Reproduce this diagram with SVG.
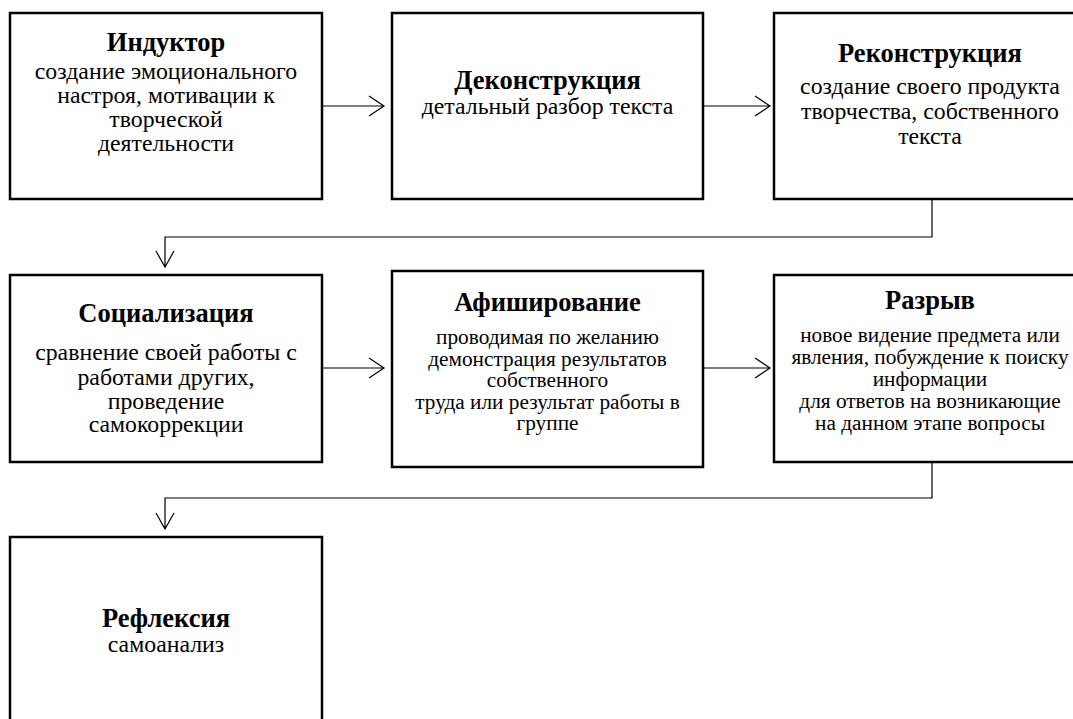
<svg xmlns="http://www.w3.org/2000/svg" width="1073" height="719" viewBox="0 0 1073 719">
<style>
.box{fill:#fff;stroke:#000;stroke-width:2.5}
.t{font-family:"Liberation Serif","Times New Roman",serif;font-weight:bold;font-size:26.5px;text-anchor:middle;fill:#000}
.b{font-family:"Liberation Serif","Times New Roman",serif;font-size:23.8px;text-anchor:middle;fill:#000}
.s{font-family:"Liberation Serif","Times New Roman",serif;font-size:21.3px;text-anchor:middle;fill:#000}
.c{fill:none;stroke:#000;stroke-width:1.2}
</style>
<rect width="1073" height="719" fill="#fff"/>
<g id="connectors">
<path class="c" d="M322,106 H384 M369,96 L384,106 L369,116"/>
<path class="c" d="M703,106 H770 M755,96 L770,106 L755,116"/>
<path class="c" d="M932,199 V237 H165 V267 M156,251 L165,267 L174,251"/>
<path class="c" d="M322,368 H384 M369,358 L384,368 L369,378"/>
<path class="c" d="M703,368 H770 M755,358 L770,368 L755,378"/>
<path class="c" d="M932,462 V498 H165 V529 M156,513 L165,529 L174,513"/>
</g>
<g id="n1">
<rect class="box" x="10" y="13" width="312" height="186"/>
<text class="t" x="166" y="51">Индуктор</text>
<text class="b" x="166" y="79">создание эмоционального</text>
<text class="b" x="166" y="103">настроя, мотивации к</text>
<text class="b" x="166" y="127">творческой</text>
<text class="b" x="166" y="151">деятельности</text>
</g>
<g id="n2">
<rect class="box" x="392" y="13" width="311" height="186"/>
<text class="t" x="547.5" y="89">Деконструкция</text>
<text class="b" x="547.5" y="114">детальный разбор текста</text>
</g>
<g id="n3">
<rect class="box" x="774" y="13" width="312" height="186"/>
<text class="t" x="930" y="62">Реконструкция</text>
<text class="b" x="930" y="94">создание своего продукта</text>
<text class="b" x="930" y="119">творчества, собственного</text>
<text class="b" x="930" y="144">текста</text>
</g>
<g id="n4">
<rect class="box" x="10" y="275" width="312" height="187"/>
<text class="t" x="166" y="322">Социализация</text>
<text class="b" x="166" y="360">сравнение своей работы с</text>
<text class="b" x="166" y="385">работами других,</text>
<text class="b" x="166" y="409">проведение</text>
<text class="b" x="166" y="432">самокоррекции</text>
</g>
<g id="n5">
<rect class="box" x="392" y="271" width="311" height="196"/>
<text class="t" x="547.5" y="311">Афиширование</text>
<text class="s" x="547.5" y="344">проводимая по желанию</text>
<text class="s" x="547.5" y="366">демонстрация результатов</text>
<text class="s" x="547.5" y="387">собственного</text>
<text class="s" x="547.5" y="409">труда или результат работы в</text>
<text class="s" x="547.5" y="430">группе</text>
</g>
<g id="n6">
<rect class="box" x="774" y="275" width="312" height="187"/>
<text class="t" x="930" y="309">Разрыв</text>
<text class="s" x="930" y="342">новое видение предмета или</text>
<text class="s" x="930" y="364">явления, побуждение к поиску</text>
<text class="s" x="930" y="386">информации</text>
<text class="s" x="930" y="408">для ответов на возникающие</text>
<text class="s" x="930" y="430">на данном этапе вопросы</text>
</g>
<g id="n7">
<rect class="box" x="10" y="537" width="312" height="200"/>
<text class="t" x="166" y="627">Рефлексия</text>
<text class="b" x="166" y="652">самоанализ</text>
</g>
</svg>
